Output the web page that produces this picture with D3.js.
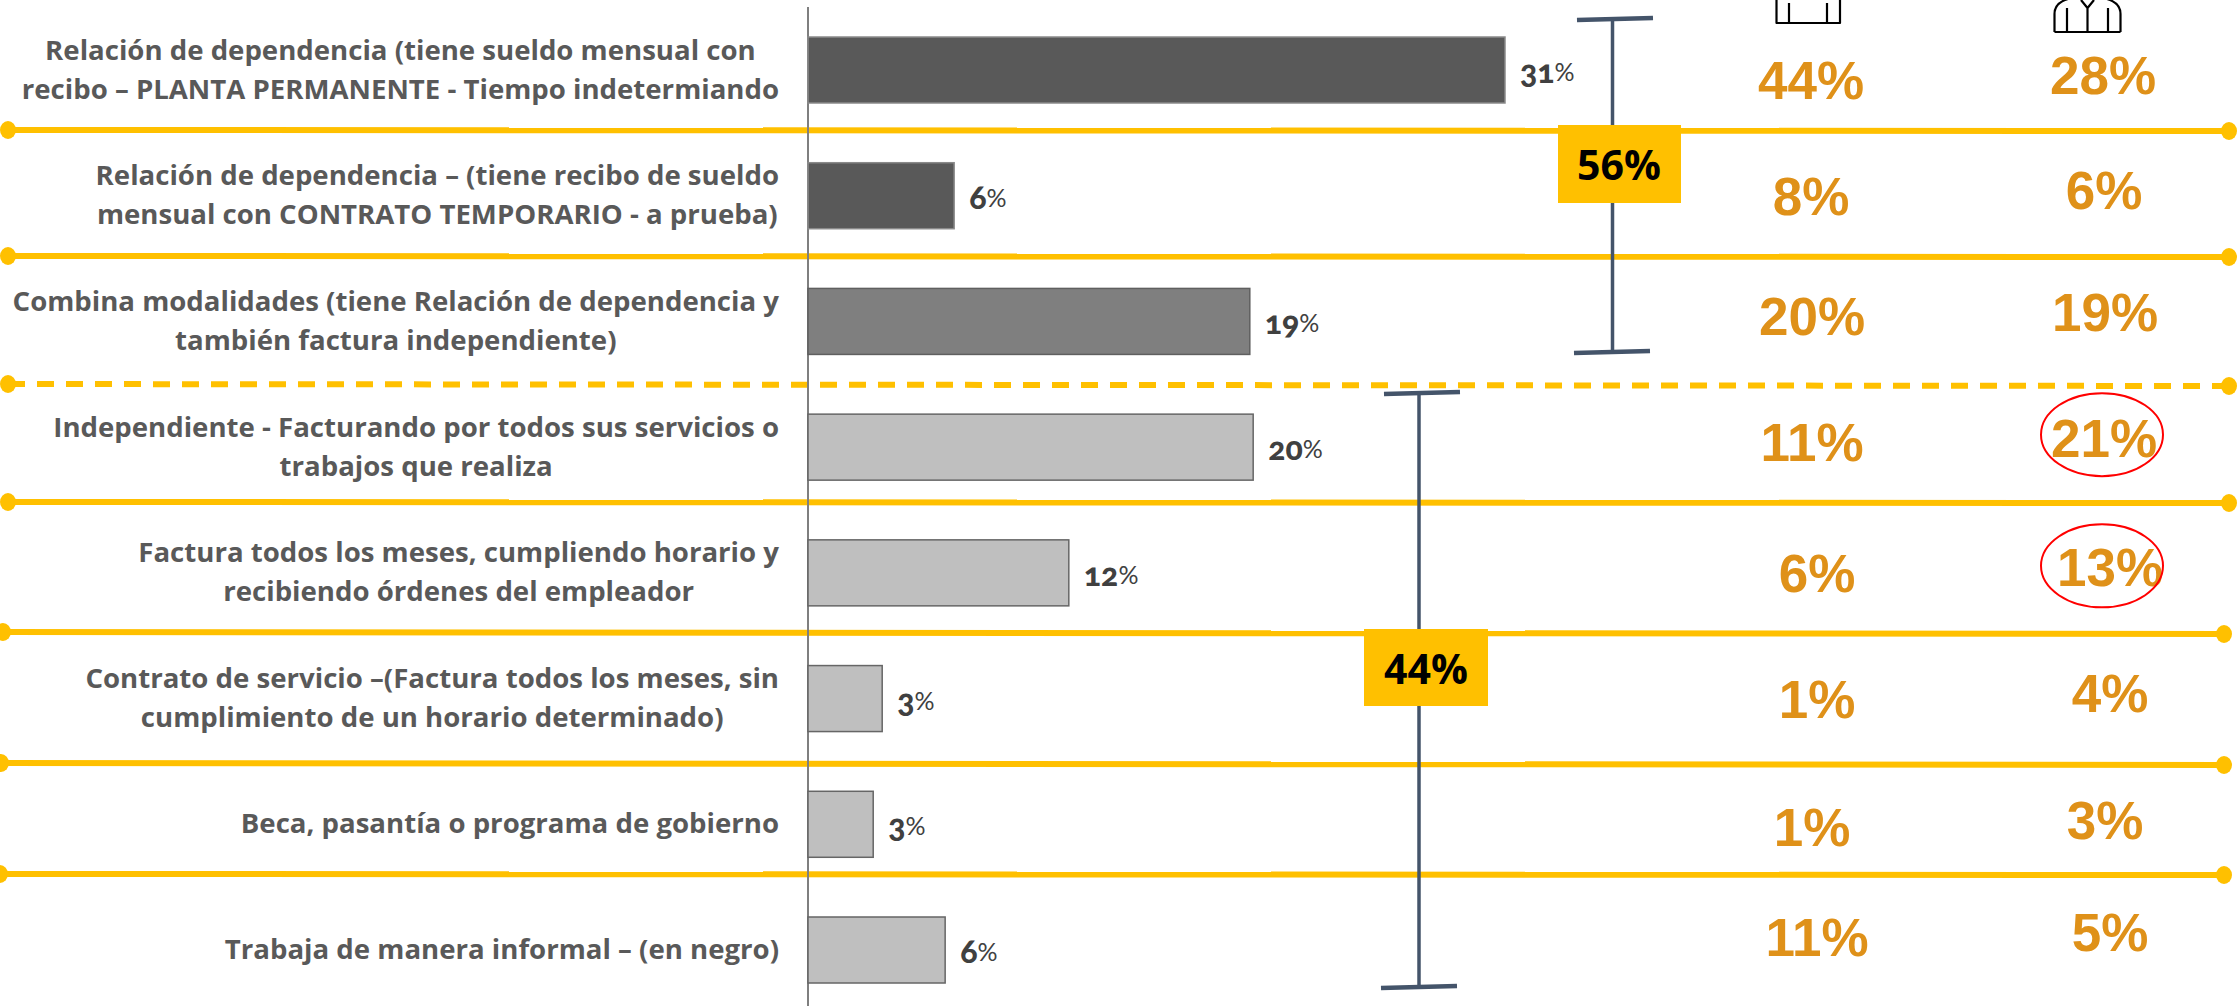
<!DOCTYPE html>
<html><head><meta charset="utf-8">
<script src="https://cdn.jsdelivr.net/npm/d3@7"></script>
<style>html,body{margin:0;padding:0;background:#fff;overflow:hidden}svg{display:block}</style>
</head><body>
<svg id="c" width="2238" height="1006"></svg>
<script>
// ---- data ----
const categories = [
  ["Relación de dependencia (tiene sueldo mensual con","recibo – PLANTA PERMANENTE - Tiempo indetermiando"],
  ["Relación de dependencia – (tiene recibo de sueldo","mensual con CONTRATO TEMPORARIO - a prueba)"],
  ["Combina modalidades (tiene Relación de dependencia y","también factura independiente)"],
  ["Independiente - Facturando por todos sus servicios o","trabajos que realiza"],
  ["Factura todos los meses, cumpliendo horario y","recibiendo órdenes del empleador"],
  ["Contrato de servicio –(Factura todos los meses, sin","cumplimiento de un horario determinado)"],
  ["Beca, pasantía o programa de gobierno"],
  ["Trabaja de manera informal – (en negro)"]
];
const barValues = [31, 6.5, 19.65, 19.8, 11.6, 3.3, 2.9, 6.1];
const barLabels = ["31","6","19","20","12","3","3","6"];
const menValues = ["44%","8%","20%","11%","6%","1%","1%","11%"];
const womenValues = ["28%","6%","19%","21%","13%","4%","3%","5%"];
const highlighted = ["21%","13%"];
const groupLabels = ["56%","44%"];

// ---- layout ----
const barShade = ["#595959","#595959","#7f7f7f","#bfbfbf","#bfbfbf","#bfbfbf","#bfbfbf","#bfbfbf"];
const barStroke = ["#8a8a8a","#8a8a8a","#5f5f5f","#666","#666","#666","#666","#666"];
const menNudge = [[1811,10],[1811,0],[1812,-5],[1812,-5],[1817,0],[1817,0],[1812,3],[1817,-13]];
const womenNudge = [[2103,5],[2104,-6],[2105,-9],[2104,-9],[2110,-6],[2110,-6],[2105,-4],[2110,-18]];
const rules = [
  {x0:8,y0:130,x1:2229,y1:131},
  {x0:8,y0:256,x1:2229,y1:257},
  {x0:8,y0:384,x1:2229,y1:386,dash:"17 12"},
  {x0:8,y0:502,x1:2229,y1:503},
  {x0:3,y0:632,x1:2224,y1:634},
  {x0:1,y0:763,x1:2224,y1:765},
  {x0:0,y0:874,x1:2224,y1:875}
];
const brackets = [
  {x:1612.5,y0:19,y1:351,cap0:[1577,1653,20,18],cap1:[1574,1650,353,351],box:[1558,125,123,78],tx:1619,ty:165},
  {x:1419,y0:394,y1:986,cap0:[1384,1460,394,392],cap1:[1381,1457,988,986],box:[1364,629,124,77],tx:1426,ty:669}
];

const svg = d3.select("#c");
const x = d3.scaleLinear().domain([0,31]).range([808,1505]);
const y = d3.scaleBand().domain(d3.range(categories.length)).range([37,983]).paddingInner(0.475).paddingOuter(0);
const cy = i => y(i)+y.bandwidth()/2;

// rules
const gR = svg.append("g");
gR.selectAll("line").data(rules).join("line")
  .attr("x1",d=>d.x0).attr("x2",d=>d.x1).attr("y1",d=>d.y0).attr("y2",d=>d.y1)
  .attr("stroke","#ffc000").attr("stroke-width",6).attr("stroke-dasharray",d=>d.dash||null);
gR.selectAll("ellipse.a").data(rules).join("ellipse").attr("class","a")
  .attr("cx",d=>d.x0).attr("cy",d=>d.y0).attr("rx",8).attr("ry",9).attr("fill","#ffc000");
gR.selectAll("ellipse.b").data(rules).join("ellipse").attr("class","b")
  .attr("cx",d=>d.x1).attr("cy",d=>d.y1).attr("rx",8).attr("ry",9).attr("fill","#ffc000");

// axis
svg.append("line").attr("x1",808).attr("x2",808).attr("y1",7).attr("y2",1006).attr("stroke","#7f7f7f").attr("stroke-width",2);

// bars
svg.append("g").selectAll("rect").data(barValues).join("rect")
  .attr("x",x(0)).attr("y",(d,i)=>y(i)).attr("width",d=>x(d)-x(0)).attr("height",y.bandwidth())
  .attr("fill",(d,i)=>barShade[i]).attr("stroke",(d,i)=>barStroke[i]).attr("stroke-width",1.5);

// bar value labels
const lab = svg.append("g").selectAll("text").data(barLabels).join("text")
  .attr("x",(d,i)=>x(barValues[i])+15).attr("y",(d,i)=>cy(i)+13)
  .attr("font-family","Lato").attr("font-size",32).attr("fill","#404040")
  .style("font-feature-settings","'onum'");
lab.append("tspan").attr("font-weight",900).text(d=>d);
lab.append("tspan").attr("font-weight",400).attr("font-size",25).attr("dy",-2).text("%");

// category labels: block right-aligned, lines centred in the block
const RIGHT = 779, LEAD = 39, FS = 27.6;
const gL = svg.append("g").attr("font-family","'Open Sans'").attr("font-weight",700).attr("font-size",FS).attr("fill","#595959");
categories.forEach((lines,i)=>{
  const g = gL.append("g");
  const ts = g.selectAll("text").data(lines).join("text").attr("text-anchor","middle")
    .attr("y",(d,k)=>cy(i)+(k-(lines.length-1)/2)*LEAD+FS*0.33).text(d=>d);
  const w = d3.max(ts.nodes(),n=>n.getComputedTextLength());
  ts.attr("x",RIGHT-w/2);
});

// brackets
const gB = svg.append("g");
brackets.forEach((b,i)=>{
  const s = {stroke:"#44546a"};
  gB.append("line").attr("x1",b.x).attr("x2",b.x).attr("y1",b.y0).attr("y2",b.y1).attr("stroke",s.stroke).attr("stroke-width",3.5);
  [b.cap0,b.cap1].forEach(c=>gB.append("line").attr("x1",c[0]).attr("x2",c[1]).attr("y1",c[2]).attr("y2",c[3]).attr("stroke",s.stroke).attr("stroke-width",4.5));
  gB.append("rect").attr("x",b.box[0]).attr("y",b.box[1]).attr("width",b.box[2]).attr("height",b.box[3]).attr("fill","#ffc000");
  gB.append("text").attr("x",b.tx).attr("y",b.ty+15).attr("text-anchor","middle")
    .attr("font-family","'Open Sans'").attr("font-weight",700).attr("font-size",41).attr("fill","#000").text(groupLabels[i]);
});

// value columns
const colFont = {family:"'Liberation Sans'",size:53};
[[menValues,menNudge],[womenValues,womenNudge]].forEach(([vals,nudge])=>{
  svg.append("g").selectAll("text").data(vals).join("text")
    .attr("x",(d,i)=>nudge[i][0]).attr("y",(d,i)=>cy(i)+nudge[i][1]+19)
    .attr("text-anchor","middle").attr("font-family",colFont.family).attr("font-weight",700)
    .attr("font-size",colFont.size).attr("fill","#df9119").text(d=>d);
});

// highlights
svg.append("g").selectAll("ellipse").data(highlighted).join("ellipse")
  .attr("cx",2102).attr("rx",61).attr("ry",41.5)
  .attr("cy",d=>cy(womenValues.indexOf(d))-(d==="21%"?12.5:7))
  .attr("fill","none").attr("stroke","#ff0000").attr("stroke-width",2);

// icons
const ic = svg.append("g").attr("fill","none").attr("stroke","#000").attr("stroke-width",2.2).attr("stroke-linejoin","round");
ic.append("path").attr("d","M1776.5 0V23H1840V0M1789 3V23M1827 3V23");
ic.append("path").attr("d","M2054.5 32V14Q2054.5 3 2068 -1M2120.5 32V14Q2120.5 3 2107 -1M2054.5 32H2120.5M2067 8V32M2108 8V32M2087.5 8V32M2081 0L2087.5 8L2094 0");
</script>
</body></html>
